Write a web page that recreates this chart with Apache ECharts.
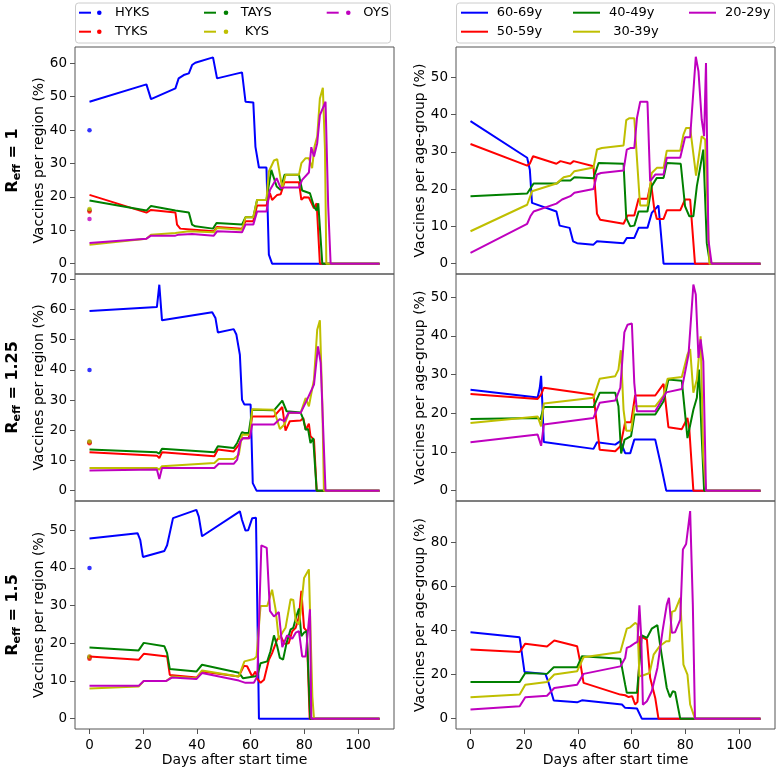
<!DOCTYPE html>
<html><head><meta charset="utf-8">
<script src="https://cdn.jsdelivr.net/npm/echarts@6.0.0/dist/echarts.min.js"></script>
<style>html,body{margin:0;padding:0;background:#fff}#c{width:777px;height:769px}</style>
</head><body><div id="c"></div><script>
// ---------- DATA ----------
const regionNames = ['HYKS', 'TYKS', 'TAYS', 'KYS', 'OYS'];
const regionLegend = ['HYKS', 'TYKS', 'TAYS', ' KYS', 'OYS'];
const ageNames = ['60-69y', '50-59y', '40-49y', '30-39y', '20-29y'];
const ageLegend = ['60-69y', '50-59y', '40-49y', ' 30-39y', '20-29y'];
const reffLabels = ['1', '1.25', '1.5'];
const xTickValues = [0, 20, 40, 60, 80, 100];
const yTicksRegion1 = [0, 10, 20, 30, 40, 50, 60];
const yTicksRegion2 = [0, 10, 20, 30, 40, 50, 60, 70];
const yTicksRegion3 = [0, 10, 20, 30, 40, 50];
const yTicksAge1 = [0, 10, 20, 30, 40, 50];
const yTicksAge2 = [0, 10, 20, 30, 40, 50];
const yTicksAge3 = [0, 20, 40, 60, 80];

// dots at day 0 (HYKS, TYKS, TAYS, KYS, OYS)
const dots1 = [40, 15.6, 16.0, 16.4, 13.4];
const dots2 = [40, 15.7, 16.0, 16.3, 16.2];
const dots3 = [40, 15.9, 16.2, 16.5, 16.4];

// Reff = 1, per region
const HYKS_1 = [[0,48.5],[21.2,53.7],[22.9,49.3],[32,52.5],[33.2,55.5],[35.1,56.5],[37,57],[38.2,59.5],[39.4,60.2],[46,61.8],[47.5,55.5],[56.8,57.3],[58.1,48.5],[61,48.3],[61.8,35],[63.1,28.8],[65.9,28.8],[66.8,2.7],[68,0],[108,0]];
const TYKS_1 = [[0,20.6],[21.2,15.3],[22.9,16.1],[32,15.3],[32.6,11.7],[33.8,10.5],[38.8,10.2],[46.3,9.7],[47.5,11],[56.8,10.5],[58.1,12.7],[61,12.7],[62.4,17.4],[65.9,17.4],[67.2,21.1],[68,19.1],[69.9,20.6],[71.2,20.8],[72.6,24.4],[78,24.4],[78.9,19.1],[79.9,19.9],[81.7,19.8],[83.6,16.6],[84.6,18.1],[85.8,0],[108,0]];
const TAYS_1 = [[0,18.9],[21.2,15.9],[22.9,17.3],[32,15.9],[37,15.3],[38.2,11.7],[39.4,11.2],[46,10.5],[47.3,12.2],[56.8,11.7],[58.1,13.9],[61,13.9],[62.4,19.1],[65.9,19.1],[67.7,28.1],[69.7,23.1],[71.2,22.1],[72.6,26.6],[78,26.6],[79.2,21.9],[82.1,21.1],[83.6,17.1],[84.6,15.9],[85.2,18.1],[86.7,0],[108,0]];
const KYS_1 = [[0,5.7],[21.2,7.5],[22.9,8.7],[32,9.2],[37,9.7],[46.3,9.4],[47.5,10.7],[56.8,10.2],[58.1,13.9],[61,13.9],[62.4,19.1],[65.9,19.1],[66.8,27.6],[68.7,30.9],[69.9,31.3],[71.8,22.6],[73,26.6],[78,26.6],[78.9,30.1],[80.5,31.6],[81.7,31.6],[82.9,28.6],[83.8,35.1],[84.8,38.1],[85.8,49.5],[86.9,52.7],[87.7,34.1],[88.2,0],[108,0]];
const OYS_1 = [[0,6.2],[21.2,7.5],[22.9,8.4],[32,8.4],[33.2,8.7],[38.2,8.9],[46.3,8.4],[47.5,9.7],[56.8,9.4],[58.1,11.7],[61,11.7],[62.4,15.6],[65.9,15.6],[67.2,22.1],[69.7,25.6],[71.2,22.6],[72.4,22.8],[78,22.8],[79.2,25.1],[81.7,27.3],[82.6,34.9],[83.6,32.1],[84.8,36.1],[85.8,44.5],[87.9,48.5],[88.9,17.1],[89.8,0],[108,0]];

// Reff = 1, per age group
const A60_1 = [[0,38.2],[21.1,28.4],[22.1,25.2],[22.9,16.3],[32,14.0],[33.2,10.2],[36.9,9.6],[38.2,6.0],[39.7,5.5],[45.8,5.1],[47.1,6.0],[57,5.5],[58.2,6.9],[61,6.9],[62.6,9.6],[65.9,9.6],[67.5,13.6],[70,15.6],[71.9,0],[108,0]];
const A50_1 = [[0,32.1],[21.1,26.3],[22.1,26.8],[23.3,28.8],[32,26.8],[33.5,27.5],[37.2,26.8],[38.4,27.5],[45.8,26.1],[47.1,13.4],[48.3,11.8],[57,10.7],[58.5,12.9],[61,12.9],[62.6,17.4],[65.9,17.4],[67.2,21.8],[68.4,14.9],[69.4,12.0],[71.9,12.0],[73.1,14.3],[78.1,14.3],[79.9,17.2],[81.8,17.2],[83.6,0],[108,0]];
const A40_1 = [[0,18.1],[21.1,18.8],[23.5,21.5],[32.2,21.5],[33.5,22.3],[37.2,22.3],[38.7,23.2],[45.8,22.9],[47.7,27.0],[57,26.8],[58,12.3],[59.5,10.0],[61,10.2],[62.6,14.0],[65.9,14.0],[67.5,20.8],[69.4,23.0],[71.9,23.0],[73.1,27.0],[78.3,26.8],[79.9,15.4],[81.5,12.7],[83,12.7],[84.3,20.8],[86.7,30.6],[88,5.5],[89.2,0],[108,0]];
const A30_1 = [[0,8.7],[21.1,15.8],[22.9,19.4],[32,21.5],[34.7,23.2],[37.2,23.6],[38.7,24.8],[45.8,25.8],[47.1,30.6],[48.9,31.0],[57,31.7],[58,38.5],[59.2,39.0],[61,39.0],[62.9,18.2],[63.2,15.6],[65.9,15.6],[67.5,24.3],[69.4,25.7],[71.9,25.7],[73.1,30.3],[78.1,30.3],[79.3,34.6],[80.3,36.4],[81.8,36.4],[84,23.6],[86.1,34.2],[87.4,33.3],[89,0],[108,0]];
const A20_1 = [[0,2.9],[21.1,10.7],[22.3,12.7],[23.5,14.0],[32,16.1],[34.1,17.2],[37.2,18.1],[38.7,19.0],[45.8,20.0],[47.1,23.9],[48.6,24.3],[57,25.0],[58.2,30.6],[59.5,31.0],[61,31.0],[62,39.1],[63.2,43.4],[65.9,43.4],[66.9,22.1],[68.8,23.9],[71.9,23.9],[73.1,28.4],[78.1,28.4],[79.9,33.9],[81.8,33.9],[83.9,55.5],[84.9,51.6],[86.1,38.6],[87,34.2],[87.7,53.8],[88.6,6.4],[89.8,0],[108,0]];

// Reff = 1.25, per region
const HYKS_2 = [[0,59.5],[25.1,60.8],[26,68.2],[27,56.4],[45.7,59.1],[46.9,57.2],[47.8,52.4],[53.7,53.5],[54.7,51.7],[56,45.0],[56.8,30.1],[57.7,28.5],[60,28.5],[60.8,2.5],[62.2,0],[108,0]];
const TYKS_2 = [[0,12.7],[25.1,11.6],[26,10.8],[27,12.7],[46.5,11.4],[47.8,13.6],[53.7,13.0],[55.6,15.2],[56.8,17.4],[59.3,17.4],[60.6,24.6],[68.7,24.6],[71.8,27.7],[73,19.9],[74.6,23.0],[78.6,23.2],[79.6,24.1],[80.5,20.2],[81.7,22.2],[82.3,18.0],[83.6,16.9],[84.6,0],[108,0]];
const TAYS_2 = [[0,13.6],[25.1,12.7],[26,12.3],[27,13.9],[46.5,12.7],[47.8,14.7],[53.7,14.1],[55,15.8],[56.8,19.4],[57.7,19.1],[59.3,19.1],[60.6,26.8],[68.7,26.6],[71.8,29.8],[73.4,26.3],[78.6,25.9],[79.6,23.7],[80.5,20.2],[81.4,20.4],[82.3,15.8],[83.3,17.4],[84.6,0],[108,0]];
const KYS_2 = [[0,7.5],[25.1,7.5],[26,7.0],[27,8.1],[46.5,9.2],[48.1,10.5],[53.7,10.5],[55.6,11.9],[56.8,18.5],[59.7,18.5],[60.6,27.0],[68.7,26.8],[70.9,20.4],[72.6,21.9],[74.2,25.7],[78.6,25.7],[80.5,30.7],[81.7,27.9],[83.6,36.8],[84.8,53.3],[85.8,56.4],[86.7,29.0],[87.3,0],[108,0]];
const OYS_2 = [[0,6.7],[25.1,7.0],[26,3.9],[27,7.5],[46.5,7.5],[48.1,8.9],[53.7,8.9],[55,10.3],[56.2,16.3],[57.2,17.4],[59.7,17.4],[60.6,21.9],[68.7,21.9],[70.9,23.7],[72.6,23.0],[74.2,25.9],[78.6,25.7],[80.9,29.9],[83.6,35.1],[85.1,47.8],[86.1,42.3],[87.9,0],[108,0]];

// Reff = 1.25, per age group
const A60_2 = [[0,26.1],[25,24.1],[25.8,26.6],[26.3,29.7],[26.8,21.8],[27.3,12.6],[45.8,10.8],[47.1,12.5],[53.9,11.9],[55.8,12.8],[57.6,9.7],[59.5,9.7],[61,13.2],[68.8,13.2],[70.9,6.7],[72.9,0],[108,0]];
const A50_2 = [[0,25.0],[25,23.7],[26.3,24.8],[27.3,26.6],[45.8,24.8],[48.1,10.6],[53.9,10.2],[55.8,11.5],[57.6,17.7],[59.8,17.7],[61.3,24.6],[68.8,24.6],[71.9,27.6],[73.7,16.4],[78.7,15.9],[80.8,18.8],[81.5,15.8],[83,0],[108,0]];
const A40_2 = [[0,18.5],[25,18.8],[26,18.4],[27.3,21.6],[45.8,21.6],[48.1,25.3],[53.9,25.3],[55.1,21.8],[56.1,9.6],[57.4,13.2],[59.8,14.1],[61.1,19.7],[68.8,19.7],[71.9,23.1],[73.7,28.7],[78.7,28.4],[80.8,13.6],[83,20.9],[84.3,24.0],[85.1,31.3],[86.1,14.1],[87,0],[108,0]];
const A30_2 = [[0,17.5],[25,19.2],[26.3,16.6],[27.3,22.5],[45.8,24.0],[48.1,28.9],[53.9,29.6],[55.1,31.3],[56,36.3],[57,20.9],[58,15.5],[59.8,15.5],[61.1,21.8],[68.8,21.8],[71.9,24.6],[73.4,28.9],[78.7,29.4],[80.8,35.2],[81.8,36.6],[83,25.3],[84.3,28.7],[85.7,39.9],[86.7,8.9],[87.7,0],[108,0]];
const A20_2 = [[0,12.5],[25,14.5],[26.3,11.6],[27.3,17.1],[45.8,18.8],[48.1,22.7],[53.9,23.3],[55.8,26.6],[57.3,40.9],[58.5,42.9],[60.1,43.2],[61,27.8],[62,20.5],[68.8,20.5],[72.9,25.4],[78.7,26.3],[81.2,35.2],[83,53.3],[83.9,50.7],[84.9,34.3],[85.7,39.1],[86.7,33.4],[87.7,0],[108,0]];

// Reff = 1.5, per region
const HYKS_3 = [[0,47.8],[17.9,49.2],[18.9,47.4],[19.9,42.9],[27.9,44.5],[28.9,46.0],[31.1,53.2],[39.8,55.4],[40.7,53.6],[41.9,48.4],[56,55.0],[56.8,52.7],[58.1,49.9],[59.1,50.0],[60.6,53.2],[62.0,53.3],[63.1,0],[108,0]];
const TYKS_3 = [[0,16.5],[18.3,15.6],[20.2,17.2],[28.9,16.5],[29.9,11.6],[39.8,10.9],[41.9,12.5],[55.6,11.2],[57.5,14.0],[58.7,13.9],[60.6,11.2],[61.8,12.5],[62.6,10.5],[63.7,9.5],[65,10.3],[66.8,15.6],[68,17.4],[69.9,21.0],[71.2,21.9],[72.6,19.9],[74.2,20.0],[75.5,23.2],[76.8,24.1],[78,27.0],[78.9,33.9],[79.9,24.1],[80.9,23.2],[82,0],[108,0]];
const TAYS_3 = [[0,18.9],[18.3,18.1],[20.2,20.1],[27.9,19.2],[28.9,17.4],[29.9,13.2],[39.8,12.5],[41.9,14.3],[55.6,12.2],[57.2,10.7],[61.2,11.2],[62.5,11.3],[63.7,14.7],[66.2,15.2],[67.4,17.9],[68.7,22.1],[69.9,19.2],[70.9,16.1],[72.1,15.7],[73.4,20.1],[74.9,23.7],[75.9,24.1],[77.1,27.3],[78,29.2],[78.9,21.9],[79.9,22.8],[80.9,23.2],[82.2,0],[108,0]];
const KYS_3 = [[0,8.0],[18.3,8.5],[20.2,10.0],[28.6,10.0],[30.7,11.2],[39.8,10.7],[41.9,12.8],[55.6,11.2],[57.7,15.2],[61.2,15.8],[62.2,16.5],[63.7,29.9],[66.2,29.9],[68,34.2],[69.3,29.0],[70.5,21.0],[71.8,22.8],[73,24.1],[74.9,31.7],[75.9,31.5],[76.8,25.9],[78,25.0],[78.6,28.1],[79.9,37.3],[81.7,39.6],[82.3,23.7],[83,5.8],[83.6,0],[108,0]];
const OYS_3 = [[0,8.7],[18.3,8.7],[20.2,10.0],[28.6,10.0],[30.7,10.9],[39.8,10.5],[41.9,12.1],[55.6,10.1],[58.1,9.5],[61.2,9.5],[62.5,11.2],[64,46.0],[66,45.3],[67.2,28.6],[68.7,27.1],[70.5,28.3],[71.8,19.0],[72.4,19.2],[73.6,22.1],[75.5,21.2],[76.8,22.8],[78,23.2],[79.2,16.5],[80.5,16.5],[81.4,23.7],[82.1,29.0],[82.6,0],[108,0]];

// Reff = 1.5, per age group
const A60_3 = [[0,39.2],[18.3,36.9],[20.1,21.2],[27.9,20.3],[29.1,16.2],[31,8.2],[39.7,7.4],[41.5,8.3],[56.4,6.4],[57.6,4.9],[62,4.6],[63.8,0],[108,0]];
const A50_3 = [[0,31.3],[18.3,30.2],[20.4,34.0],[28.5,32.7],[31.2,35.4],[39.7,32.8],[40.9,25.3],[42.1,16.2],[55.8,10.9],[57.6,10.6],[58.9,9.8],[60.2,10.2],[61.3,6.4],[62.2,7.6],[63.2,37.4],[65.7,35.8],[66.9,18.5],[68.8,9.4],[70,0],[108,0]];
const A40_3 = [[0,16.6],[18.3,16.6],[20.4,20.7],[28.5,20.3],[31,23.3],[39.7,23.3],[41.5,28.3],[55.8,27.2],[57.6,15.4],[58.2,11.7],[62,11.7],[63.8,37.8],[65.7,36.6],[67.5,40.8],[69.6,42.4],[70.6,33.6],[73.1,13.9],[74.3,9.7],[75.3,12.4],[76.2,12.1],[78.1,0],[108,0]];
const A30_3 = [[0,9.7],[18.3,10.9],[20.4,15.4],[28.5,16.6],[31.2,20.0],[39.7,21.5],[42.1,27.8],[55.8,30.2],[56.4,30.5],[58.2,40.8],[59.5,41.4],[61.3,43.4],[62.2,42.7],[62.9,19.2],[64.4,19.7],[66.7,20.7],[68.2,29.0],[70.4,32.8],[72.9,35.1],[74.1,35.1],[75,48.4],[76.2,49.0],[78.1,54.8],[79.3,24.5],[80.8,20.0],[81.8,6.4],[83.6,0],[108,0]];
const A20_3 = [[0,4.1],[18.3,5.6],[20.4,9.7],[28.5,10.4],[31.2,13.9],[39.7,15.4],[42.1,20.3],[55.8,23.7],[56.4,23.7],[57.6,27.5],[58.2,32.1],[59.5,32.8],[61.3,34.3],[62.2,34.8],[62.9,51.4],[63.6,36.6],[64.2,6.3],[65.7,7.9],[67.5,12.4],[69.6,23.0],[71.6,40.4],[73.1,51.7],[73.9,54.8],[75,38.9],[76.2,39.2],[78.1,44.9],[79.1,76.7],[80.3,79.2],[81.8,94.1],[82.8,51.7],[83.6,0],[108,0]];

// ---------- STYLE / LAYOUT ----------
const FONT = 'DejaVu Sans';
const COLORS = ['#0000ff', '#ff0000', '#008000', '#bfbf00', '#bf00bf'];
const FRAME = '#555555';

const panels = [
  { box: [75, 47, 319, 227], y: [-3.09, 64.9], ticks: yTicksRegion1, lines: [HYKS_1, TYKS_1, TAYS_1, KYS_1, OYS_1], names: regionNames, dots: dots1, yName: 'Vaccines per region (%)', bottom: false },
  { box: [456, 47, 319, 227], y: [-2.77, 58.1], ticks: yTicksAge1, lines: [A60_1, A50_1, A40_1, A30_1, A20_1], names: ageNames, dots: null, yName: 'Vaccines per age-group (%)', bottom: false },
  { box: [75, 274, 319, 227], y: [-3.42, 71.75], ticks: yTicksRegion2, lines: [HYKS_2, TYKS_2, TAYS_2, KYS_2, OYS_2], names: regionNames, dots: dots2, yName: 'Vaccines per region (%)', bottom: false },
  { box: [456, 274, 319, 227], y: [-2.67, 56.0], ticks: yTicksAge2, lines: [A60_2, A50_2, A40_2, A30_2, A20_2], names: ageNames, dots: null, yName: 'Vaccines per age-group (%)', bottom: false },
  { box: [75, 501, 319, 228], y: [-2.75, 57.75], ticks: yTicksRegion3, lines: [HYKS_3, TYKS_3, TAYS_3, KYS_3, OYS_3], names: regionNames, dots: dots3, yName: 'Vaccines per region (%)', bottom: true },
  { box: [456, 501, 319, 228], y: [-4.7, 98.7], ticks: yTicksAge3, lines: [A60_3, A50_3, A40_3, A30_3, A20_3], names: ageNames, dots: null, yName: 'Vaccines per age-group (%)', bottom: true }
];

const grid = [], xAxis = [], yAxis = [], series = [];
panels.forEach((p, i) => {
  grid.push({ left: p.box[0], top: p.box[1], width: p.box[2], height: p.box[3], show: true, borderColor: FRAME, borderWidth: 1, backgroundColor: 'transparent', containLabel: false });
  xAxis.push({
    type: 'value', gridIndex: i, min: -5.4, max: 113.4, position: 'bottom',
    axisLine: { show: false, onZero: false }, splitLine: { show: false },
    axisTick: { show: p.bottom, inside: false, length: 5, customValues: xTickValues, lineStyle: { color: FRAME } },
    axisLabel: { show: p.bottom, customValues: xTickValues, color: '#000', fontSize: 13.5, fontFamily: FONT, margin: 9 },
    name: p.bottom ? 'Days after start time' : '', nameLocation: 'middle', nameGap: 22,
    nameTextStyle: { color: '#000', fontSize: 14, fontFamily: FONT, verticalAlign: 'top' }
  });
  yAxis.push({
    type: 'value', gridIndex: i, min: p.y[0], max: p.y[1], position: 'left',
    axisLine: { show: false, onZero: false }, splitLine: { show: false },
    axisTick: { show: true, inside: false, length: 5, customValues: p.ticks, lineStyle: { color: FRAME } },
    axisLabel: { customValues: p.ticks, color: '#000', fontSize: 13.5, fontFamily: FONT, margin: 8 },
    name: p.yName, nameLocation: 'middle', nameRotate: 90, nameGap: 28,
    nameTextStyle: { color: '#000', fontSize: 14, fontFamily: FONT }
  });
  p.lines.forEach((d, k) => {
    series.push({
      type: 'line', name: p.names[k], xAxisIndex: i, yAxisIndex: i, data: d,
      showSymbol: false, symbol: 'none', clip: true,
      lineStyle: { color: COLORS[k], width: 2 }, itemStyle: { color: COLORS[k] }
    });
  });
  if (p.dots) {
    [4, 2, 1, 3, 0].forEach(k => {
      series.push({
        type: 'scatter', name: p.names[k] + ' start', xAxisIndex: i, yAxisIndex: i,
        data: [[0, p.dots[k]]], symbol: 'circle', symbolSize: 4.5,
        itemStyle: { color: COLORS[k] }
      });
    });
  }
});

// legends and row titles as graphic elements
const graphic = [];
function legendBox(x, w) {
  graphic.push({ type: 'rect', shape: { x: x, y: 3, width: w, height: 40, r: 3 }, style: { fill: '#fff', stroke: '#cccccc', lineWidth: 1 } });
}
legendBox(75.5, 315);
legendBox(456.5, 318);
const rowsY = [12.7, 31.7];
const regCols = [{ l: 79, d: 99.3, t: 115 }, { l: 204, d: 226, t: 240.7 }, { l: 326.7, d: 348.3, t: 363.3 }];
const regPos = [[0, 0], [0, 1], [1, 0], [1, 1], [2, 0]];
regionLegend.forEach((n, k) => {
  const c = regCols[regPos[k][0]], y = rowsY[regPos[k][1]];
  graphic.push({ type: 'line', shape: { x1: c.l, y1: y, x2: c.l + 12, y2: y }, style: { stroke: COLORS[k], lineWidth: 2 } });
  graphic.push({ type: 'circle', shape: { cx: c.d, cy: y, r: 2.3 }, style: { fill: COLORS[k] } });
  graphic.push({ type: 'text', style: { text: n, x: c.t, y: y, fill: '#000', fontSize: 13, fontFamily: FONT, verticalAlign: 'middle', align: 'left' } });
});
const ageCols = [{ l: 461, t: 496.7 }, { l: 573, t: 609 }, { l: 689, t: 725 }];
ageLegend.forEach((n, k) => {
  const c = ageCols[regPos[k][0]], y = rowsY[regPos[k][1]];
  graphic.push({ type: 'line', shape: { x1: c.l, y1: y, x2: c.l + 27, y2: y }, style: { stroke: COLORS[k], lineWidth: 2 } });
  graphic.push({ type: 'text', style: { text: n, x: c.t, y: y, fill: '#000', fontSize: 13, fontFamily: FONT, verticalAlign: 'middle', align: 'left' } });
});
const rowCenters = [160.5, 387.5, 615];
reffLabels.forEach((r, i) => {
  graphic.push({
    type: 'text', x: 13, y: rowCenters[i], rotation: Math.PI / 2,
    style: {
      text: '{a|R}{b|eff}{a| = ' + r + '}', align: 'center', verticalAlign: 'middle', fill: '#000',
      rich: {
        a: { fontSize: 16, fontWeight: 'bold', fontFamily: FONT, fill: '#000', lineHeight: 20 },
        b: { fontSize: 11, fontWeight: 'bold', fontFamily: FONT, fill: '#000', lineHeight: 20, padding: [8, 0, 0, 0] }
      }
    }
  });
});

const chart = echarts.init(document.getElementById('c'), null, { renderer: 'canvas' });
chart.setOption({
  animation: false,
  backgroundColor: '#fff',
  grid, xAxis, yAxis, series, graphic
});
</script></body></html>
